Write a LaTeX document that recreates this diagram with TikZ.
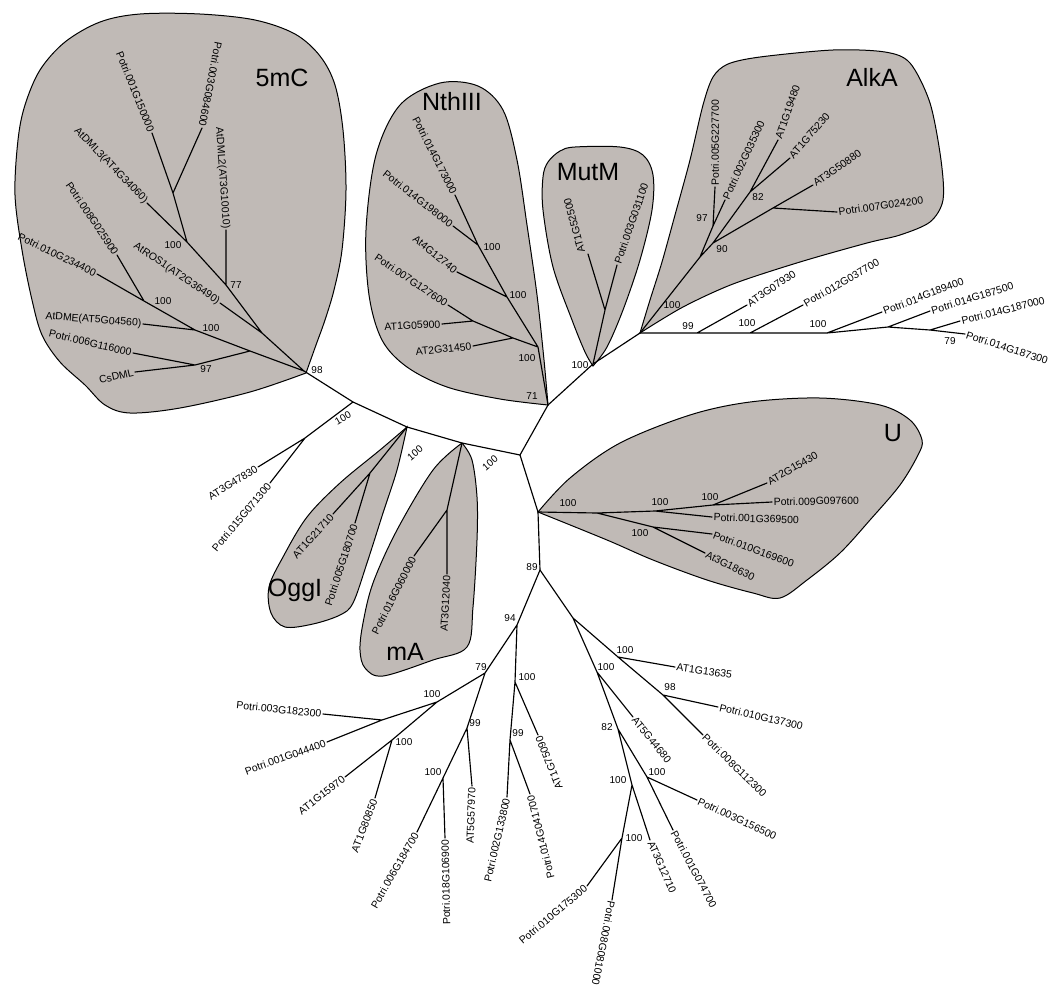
\documentclass[tikz,border=0pt]{standalone}
\usepackage{fontspec}
\setmainfont{Liberation Sans}
\definecolor{blobgray}{RGB}{192,186,182}
\tikzset{
  br/.style={line width=1.15pt, line cap=round, line join=round},
  lf/.style={font=\fontsize{10.5}{12}\selectfont, inner sep=1.5pt},
  bs/.style={font=\fontsize{10}{12}\selectfont, inner sep=0pt},
  cl/.style={font=\fontsize{25}{30}\selectfont, inner sep=0pt},
  blob/.style={draw=black, line width=1pt, fill=blobgray},
}
\begin{document}
\begin{tikzpicture}[x=1pt,y=-1pt]
\useasboundingbox (0,0) rectangle (1058,994);

% ---------------- blobs ----------------
\draw[blob] plot[smooth, tension=0.55] coordinates {(306,373) (250,392) (180,408) (130,413) (105,405) (85,385) (60,362) (42,335) (32,300) (22,250) (15,195) (18,140) (25,105) (40,70) (65,42) (100,22) (140,14) (200,14) (255,20) (295,34) (320,56) (335,85) (343,130) (346,190) (342,250) (334,290) (325,320) (316,345) (306,373)} -- cycle;
\draw[blob] plot[smooth, tension=0.55] coordinates {(548,405) (500,399) (447,387) (407,367) (382,340) (369,295) (366,230) (376,155) (400,105) (440,83) (478,86) (503,110) (517,160) (527,225) (537,295) (544,360) (548,405)} -- cycle;
\draw[blob] plot[smooth, tension=0.55] coordinates {(593,366) (585,352) (572,320) (553,267) (543,210) (543,177) (548,162) (560,151) (575,147) (620,147) (643,155) (653,175) (652,210) (640,260) (623,310) (607,347) (593,366)} -- cycle;
\draw[blob] plot[smooth, tension=0.5] coordinates {(640,333) (650,300) (662,262) (675,215) (690,160) (703,105) (713,77) (728,64) (760,57) (833,50) (885,52) (910,63) (930,103) (941,160) (943,200) (930,222) (900,235) (867,243) (800,262) (733,284) (683,307) (640,333)} -- cycle;
\draw[blob] plot[smooth, tension=0.55] coordinates {(407,427) (397,470) (383,513) (367,563) (353,603) (340,615) (313,624) (285,627) (271,613) (269,587) (283,557) (307,517) (340,483) (380,450) (407,427)} -- cycle;
\draw[blob] plot[smooth, tension=0.55] coordinates {(462,443) (472,460) (477,497) (477,540) (473,607) (467,647) (433,660) (383,676) (365,668) (360,650) (363,623) (373,583) (397,530) (433,470) (462,443)} -- cycle;
\draw[blob] plot[smooth, tension=0.55] coordinates {(538,512) (607,540) (653,560) (707,580) (753,593) (780,598) (807,580) (840,553) (870,520) (900,485) (918,455) (922,440) (910,420) (880,405) (820,398) (750,402) (690,415) (620,443) (570,478) (538,512)} -- cycle;

% ---------------- internal nodes ----------------
% 5mC
\coordinate (N98) at (304,371);
\coordinate (Na) at (262,333);
\coordinate (C77) at (226,285);
\coordinate (B100) at (187,242);
\coordinate (A1) at (173,193);
\coordinate (Nb) at (250,351);
\coordinate (Nc) at (195,330);
\coordinate (Nd) at (144,301);
\coordinate (N97) at (195,365);
% backbone
\coordinate (Nx) at (353,402);
\coordinate (N47) at (305,438);
\coordinate (Noggl) at (407,427);
\coordinate (No2) at (370,473);
\coordinate (NmA) at (462,443);
\coordinate (Nm2) at (447,510);
\coordinate (Ncenter) at (520,455);
% NthIII
\coordinate (N71) at (548,405);
\coordinate (N100c) at (538,347);
\coordinate (Nat) at (507,297);
\coordinate (Nb2) at (478,245);
\coordinate (Np) at (513,338);
\coordinate (Nq) at (473,321);
% MutM
\coordinate (NmutM) at (593,364);
\coordinate (Nmu2) at (605,310);
% AlkA
\coordinate (NalkA) at (640,333);
\coordinate (Nk1) at (700,257);
\coordinate (N97k) at (713,226);
\coordinate (N90k) at (713,243);
\coordinate (N82k) at (750,192);
\coordinate (Nk3) at (773,208);
% horizontal
\coordinate (N99h) at (697,333);
\coordinate (N100a) at (750,333);
\coordinate (N100b) at (827,333);
\coordinate (Nc2) at (888,327);
\coordinate (N79r) at (930,330);
% U
\coordinate (Uroot) at (538,512);
\coordinate (Nu1) at (597,513);
\coordinate (Nu2) at (655,511);
\coordinate (Nu3) at (713,505);
\coordinate (Nu4) at (653,527);
% lower
\coordinate (N89) at (540,570);
\coordinate (N94) at (517,625);
\coordinate (N79l) at (485,673);
\coordinate (N100d) at (515,682);
\coordinate (N100e) at (437,702);
\coordinate (Npc) at (382,720);
\coordinate (N100f) at (392,740);
\coordinate (N99a) at (467,728);
\coordinate (N100g) at (443,778);
\coordinate (N99b) at (510,740);
\coordinate (N1) at (573,618);
\coordinate (N100h) at (618,657);
\coordinate (N98b) at (663,695);
\coordinate (N100i) at (597,672);
\coordinate (N82l) at (618,729);
\coordinate (N100j) at (632,785);
\coordinate (N100k) at (647,777);
\coordinate (N100l) at (622,838);

% ---------------- leaves ----------------
% 5mC
\coordinate (t1) at (152,133); \node[lf,rotate=-68,anchor=east] (l1) at (t1) {Potri.001G150000};
\coordinate (t2) at (202,128); \node[lf,rotate=-101,anchor=east] (l2) at (t2) {Potri.003G084600};
\coordinate (t3) at (147,203); \node[lf,rotate=-46,anchor=east] (l3) at (t3) {AtDML3(AT4G34060)};
\coordinate (t4) at (226,230); \node[lf,rotate=-86,anchor=east] (l4) at (t4) {AtDML2(AT3G10010)};
\coordinate (t5) at (220,303); \node[lf,rotate=-34,anchor=east] (l5) at (t5) {AtROS1(AT2G36490)};
\coordinate (t6) at (97,274); \node[lf,rotate=-26,anchor=east] (l6) at (t6) {Potri.010G234400};
\coordinate (t7) at (117,255); \node[lf,rotate=-56,anchor=east] (l7) at (t7) {Potri.008G025900};
\coordinate (t8) at (143,324); \node[lf,rotate=-4.5,anchor=east] (l8) at (t8) {AtDME(AT5G04560)};
\coordinate (t9) at (133,353); \node[lf,rotate=-13.6,anchor=east] (l9) at (t9) {Potri.006G116000};
\coordinate (t10) at (135,372); \node[lf,rotate=13,anchor=east] (l10) at (t10) {CsDML};
% NthIII
\coordinate (t11) at (455,195); \node[lf,rotate=-63,anchor=east] (l11) at (t11) {Potri.014G173000};
\coordinate (t12) at (453,226); \node[lf,rotate=-38,anchor=east] (l12) at (t12) {Potri.014G198000};
\coordinate (t13) at (457,272); \node[lf,rotate=-39,anchor=east] (l13) at (t13) {At4G12740};
\coordinate (t14) at (448,305); \node[lf,rotate=-34,anchor=east] (l14) at (t14) {Potri.007G127600};
\coordinate (t15) at (442,324); \node[lf,rotate=3,anchor=east] (l15) at (t15) {AT1G05900};
\coordinate (t16) at (473,346); \node[lf,rotate=6,anchor=east] (l16) at (t16) {AT2G31450};
% MutM
\coordinate (t17) at (588,254); \node[lf,rotate=105,anchor=west] (l17) at ([xshift=-6pt]t17) {AT1G52500};
\coordinate (t18) at (617,265); \node[lf,rotate=71,anchor=west] (l18) at (t18) {Potri.003G031100};
% AlkA
\coordinate (t19) at (715,187); \node[lf,rotate=90,anchor=west] (l19) at (t19) {Potri.005G227700};
\coordinate (t20) at (725,200); \node[lf,rotate=65,anchor=west] (l20) at (t20) {Potri.002G035300};
\coordinate (t21) at (778,140); \node[lf,rotate=71,anchor=west] (l21) at (t21) {AT1G19480};
\coordinate (t22) at (790,158); \node[lf,rotate=49,anchor=west] (l22) at (t22) {AT1G75230};
\coordinate (t23) at (813,185); \node[lf,rotate=35,anchor=west] (l23) at (t23) {AT3G50880};
\coordinate (t24) at (837,212); \node[lf,rotate=8,anchor=west] (l24) at (t24) {Potri.007G024200};
% horizontal group
\coordinate (t25) at (747,305); \node[lf,rotate=34,anchor=west] (l25) at (t25) {AT3G07930};
\coordinate (t26) at (803,305); \node[lf,rotate=30,anchor=west] (l26) at (t26) {Potri.012G037700};
\coordinate (t27) at (882,312); \node[lf,rotate=21,anchor=west] (l27) at (t27) {Potri.014G189400};
\coordinate (t28) at (930,311); \node[lf,rotate=17,anchor=west] (l28) at (t28) {Potri.014G187500};
\coordinate (t29) at (960,321); \node[lf,rotate=14,anchor=west] (l29) at (t29) {Potri.014G187000};
\coordinate (t30) at (965,334); \node[lf,rotate=-18,anchor=west] (l30) at (t30) {Potri.014G187300};
% AT3G47830 group, Oggl, mA
\coordinate (t31) at (258,467); \node[lf,rotate=32,anchor=east] (l31) at (t31) {AT3G47830};
\coordinate (t32) at (270,483); \node[lf,rotate=50,anchor=east] (l32) at (t32) {Potri.015G071300};
\coordinate (t33) at (333,514); \node[lf,rotate=48,anchor=east] (l33) at (t33) {AT1G21710};
\coordinate (t34) at (355,523); \node[lf,rotate=72,anchor=east] (l34) at (t34) {Potri.005G180700};
\coordinate (t35) at (414,556); \node[lf,rotate=63,anchor=east] (l35) at (t35) {Potri.016G060000};
\coordinate (t36) at (447,574); \node[lf,rotate=87,anchor=east] (l36) at (t36) {AT3G12040};
% U
\coordinate (t37) at (767,483); \node[lf,rotate=30,anchor=west] (l37) at (t37) {AT2G15430};
\coordinate (t38) at (772,502); \node[lf,rotate=1,anchor=west] (l38) at (t38) {Potri.009G097600};
\coordinate (t39) at (712,517); \node[lf,rotate=-2,anchor=west] (l39) at (t39) {Potri.001G369500};
\coordinate (t40) at (712,534); \node[lf,rotate=-20,anchor=west] (l40) at (t40) {Potri.010G169600};
\coordinate (t41) at (705,553); \node[lf,rotate=-27,anchor=west] (l41) at (t41) {At3G18630};
% lower left
\coordinate (t42) at (323,714); \node[lf,rotate=-6,anchor=east] (l42) at (t42) {Potri.003G182300};
\coordinate (t43) at (327,742); \node[lf,rotate=20,anchor=east] (l43) at (t43) {Potri.001G044400};
\coordinate (t44) at (345,777); \node[lf,rotate=38,anchor=east] (l44) at (t44) {AT1G15970};
\coordinate (t45) at (375,798); \node[lf,rotate=69,anchor=east] (l45) at (t45) {AT1G80850};
\coordinate (t46) at (417,832); \node[lf,rotate=60,anchor=east] (l46) at (t46) {Potri.006G184700};
\coordinate (t47) at (445,838); \node[lf,rotate=91,anchor=east] (l47) at (t47) {Potri.018G106900};
\coordinate (t48) at (472,786); \node[lf,rotate=88,anchor=east] (l48) at (t48) {AT5G57970};
\coordinate (t49) at (507,797); \node[lf,rotate=77,anchor=east] (l49) at (t49) {Potri.002G133800};
\coordinate (t50) at (530,794); \node[lf,rotate=104,anchor=east] (l50) at (t50) {Potri.014G041700};
\coordinate (t51) at (538,735); \node[lf,rotate=112,anchor=east] (l51) at (t51) {AT1G75090};
% lower right
\coordinate (t52) at (675,667); \node[lf,rotate=-8,anchor=west] (l52) at (t52) {AT1G13635};
\coordinate (t53) at (718,707); \node[lf,rotate=-13,anchor=west] (l53) at (t53) {Potri.010G137300};
\coordinate (t54) at (703,735); \node[lf,rotate=-44,anchor=west] (l54) at (t54) {Potri.008G112300};
\coordinate (t55) at (633,717); \node[lf,rotate=-51,anchor=west] (l55) at (t55) {AT5G44680};
\coordinate (t56) at (697,800); \node[lf,rotate=-25,anchor=west] (l56) at (t56) {Potri.003G156500};
\coordinate (t57) at (673,830); \node[lf,rotate=-62,anchor=west] (l57) at (t57) {Potri.001G074700};
\coordinate (t58) at (650,840); \node[lf,rotate=-66,anchor=west] (l58) at (t58) {AT3G12710};
\coordinate (t59) at (587,886); \node[lf,rotate=40,anchor=east] (l59) at (t59) {Potri.010G175300};
\coordinate (t60) at (612,900); \node[lf,rotate=-101,anchor=west] (l60) at (t60) {Potri.008G081000};

% ---------------- branches ----------------
\draw[br] (N98)--(Na) (Na)--(C77) (C77)--(B100) (B100)--(A1) (A1)--(t1) (A1)--(t2)
  (B100)--(t3) (C77)--(t4) (Na)--(t5) (N98)--(Nb) (Nb)--(Nc) (Nc)--(Nd) (Nd)--(t6) (Nd)--(t7)
  (Nc)--(t8) (Nb)--(N97) (N97)--(t9) (N97)--(t10);
\draw[br] (N98)--(Nx) (Nx)--(Noggl) (Noggl)--(NmA) (NmA)--(Ncenter)
  (Nx)--(N47) (N47)--(t31) (N47)--(t32)
  (Noggl)--(No2) (No2)--(t33) (No2)--(t34)
  (NmA)--(Nm2) (Nm2)--(t35) (Nm2)--(t36);
\draw[br] (Ncenter)--(N71) (N71)--(N100c) (N100c)--(Nat) (Nat)--(Nb2) (Nb2)--(t11) (Nb2)--(t12)
  (Nat)--(t13) (N100c)--(Np) (Np)--(Nq) (Nq)--(t14) (Nq)--(t15) (Np)--(t16);
\draw[br] (N71)--(NmutM) (NmutM)--(Nmu2) (Nmu2)--(t17) (Nmu2)--(t18) (NmutM)--(NalkA);
\draw[br] (NalkA)--(Nk1) (Nk1)--(N97k) (N97k)--(t19) (N97k)--(t20) (Nk1)--(N90k) (N90k)--(N82k)
  (N82k)--(t21) (N82k)--(t22) (N90k)--(Nk3) (Nk3)--(t23) (Nk3)--(t24);
\draw[br] (NalkA)--(N99h) (N99h)--(N100a) (N100a)--(N100b) (N100b)--(Nc2) (Nc2)--(N79r)
  (N99h)--(t25) (N100a)--(t26) (N100b)--(t27) (Nc2)--(t28) (N79r)--(t29) (N79r)--(t30);
\draw[br] (Ncenter)--(Uroot) (Uroot)--(Nu1) (Nu1)--(Nu2) (Nu2)--(Nu3) (Nu3)--(t37) (Nu3)--(t38)
  (Nu2)--(t39) (Nu1)--(Nu4) (Nu4)--(t40) (Nu4)--(t41);
\draw[br] (Uroot)--(N89) (N89)--(N94) (N94)--(N79l) (N94)--(N100d) (N79l)--(N100e) (N100e)--(Npc)
  (Npc)--(t42) (Npc)--(t43) (N100e)--(N100f) (N100f)--(t44) (N100f)--(t45)
  (N79l)--(N99a) (N99a)--(t48) (N99a)--(N100g) (N100g)--(t46) (N100g)--(t47)
  (N100d)--(N99b) (N99b)--(t49) (N99b)--(t50) (N100d)--(t51);
\draw[br] (N89)--(N1) (N1)--(N100h) (N100h)--(t52) (N100h)--(N98b) (N98b)--(t53) (N98b)--(t54)
  (N1)--(N100i) (N100i)--(t55) (N100i)--(N82l) (N82l)--(N100j) (N82l)--(N100k)
  (N100j)--(N100l) (N100l)--(t59) (N100l)--(t60) (N100j)--(t58) (N100k)--(t56) (N100k)--(t57);

% ---------------- bootstrap values ----------------
\node[bs] (b1) at (173,245) {100};
\node[bs] (b2) at (236,285) {77};
\node[bs] (b3) at (163,301) {100};
\node[bs] (b4) at (211,328) {100};
\node[bs] (b5) at (206,369) {97};
\node[bs] (b6) at (317,370) {98};
\node[bs] (b7) at (492,247) {100};
\node[bs] (b8) at (518,295) {100};
\node[bs] (b9) at (527,358) {100};
\node[bs] (b10) at (532,396) {71};
\node[bs] (b11) at (580,365) {100};
\node[bs] (b12) at (672,305) {100};
\node[bs] (b13) at (702,218) {97};
\node[bs] (b14) at (722,249) {90};
\node[bs] (b15) at (758,197) {82};
\node[bs] (b16) at (688,326) {99};
\node[bs] (b17) at (747,323) {100};
\node[bs] (b18) at (818,324) {100};
\node[bs] (b19) at (950,341) {79};
\node[bs,rotate=30] (b20) at (343,418) {100};
\node[bs,rotate=40] (b21) at (415,453) {100};
\node[bs,rotate=40] (b22) at (490,463) {100};
\node[bs] (b23) at (568,503) {100};
\node[bs] (b24) at (660,502) {100};
\node[bs] (b25) at (710,497) {100};
\node[bs] (b26) at (640,533) {100};
\node[bs] (b27) at (532,567) {89};
\node[bs] (b28) at (510,618) {94};
\node[bs] (b29) at (481,667) {79};
\node[bs] (b30) at (527,677) {100};
\node[bs] (b31) at (432,694) {100};
\node[bs] (b32) at (404,742) {100};
\node[bs] (b33) at (475,723) {99};
\node[bs] (b34) at (518,733) {99};
\node[bs] (b35) at (433,772) {100};
\node[bs] (b36) at (625,650) {100};
\node[bs] (b37) at (670,687) {98};
\node[bs] (b38) at (606,667) {100};
\node[bs] (b39) at (607,727) {82};
\node[bs] (b40) at (618,780) {100};
\node[bs] (b41) at (657,772) {100};
\node[bs] (b42) at (634,838) {100};

% ---------------- clade names ----------------
\node[cl] (c1) at (282,78) {5mC};
\node[cl] (c2) at (452,102) {NthIII};
\node[cl] (c3) at (588,172) {MutM};
\node[cl] (c4) at (872,77) {AlkA};
\node[cl] (c5) at (295,590) {OggI};
\node[cl] (c6) at (405,652) {mA};
\node[cl] (c7) at (893,433) {U};
\end{tikzpicture}
\end{document}
